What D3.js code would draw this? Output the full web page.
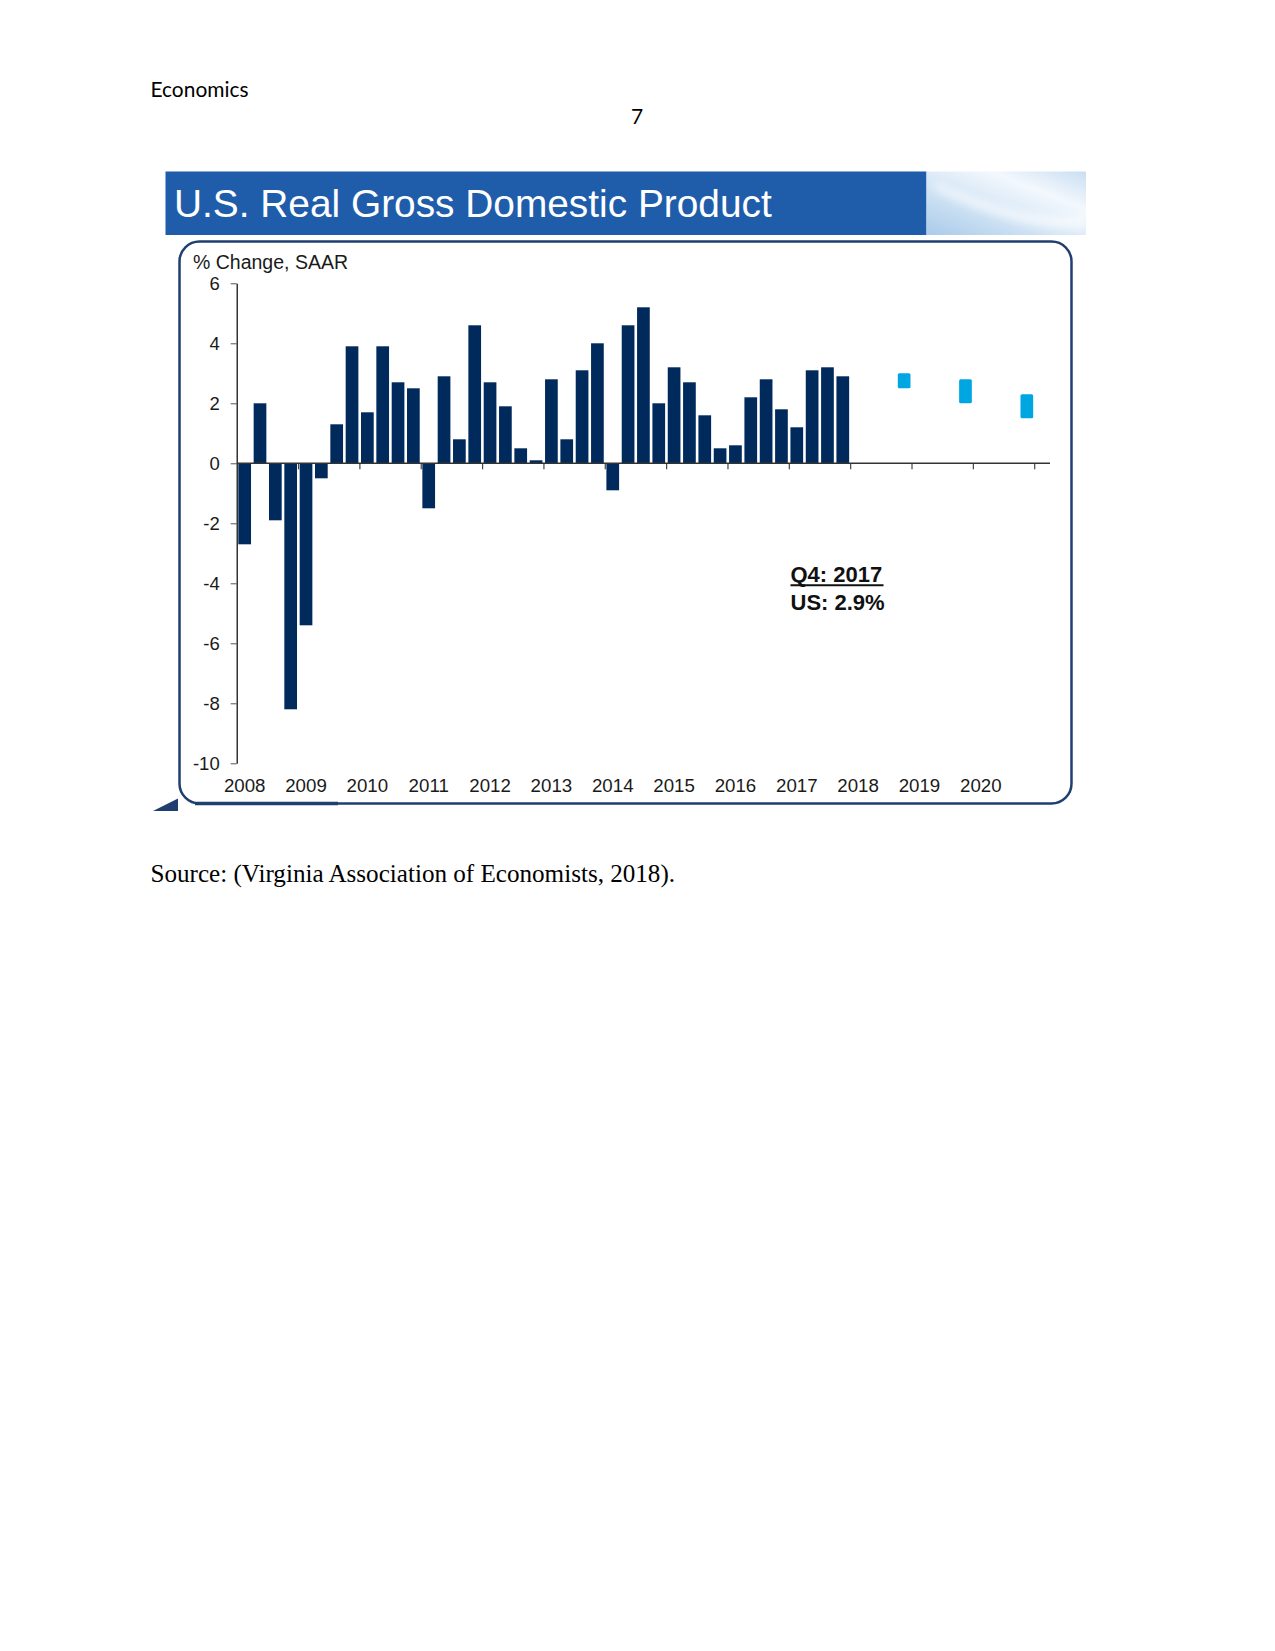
<!DOCTYPE html>
<html>
<head>
<meta charset="utf-8">
<script src="https://cdn.jsdelivr.net/npm/d3@7"></script>
<style>
  html, body { margin: 0; padding: 0; background: #fff; }
  svg { display: block; }
</style>
</head>
<body>
<script>
// ---- Data ----
const years = ["2008","2009","2010","2011","2012","2013","2014","2015","2016","2017","2018","2019","2020"];
const quarterLabels = [];
years.slice(0, 10).forEach(y => ["Q1","Q2","Q3","Q4"].forEach(q => quarterLabels.push(y + q)));
const gdpValues = [
  -2.7, 2.0, -1.9, -8.2,
  -5.4, -0.5, 1.3, 3.9,
   1.7, 3.9, 2.7, 2.5,
  -1.5, 2.9, 0.8, 4.6,
   2.7, 1.9, 0.5, 0.1,
   2.8, 0.8, 3.1, 4.0,
  -0.9, 4.6, 5.2, 2.0,
   3.2, 2.7, 1.6, 0.5,
   0.6, 2.2, 2.8, 1.8,
   1.2, 3.1, 3.2, 2.9
];
const forecastYears = ["2018","2019","2020"];
const forecastLow  = [2.5, 2.0, 1.5];
const forecastHigh = [3.0, 2.8, 2.3];
const yTicks = [-10, -8, -6, -4, -2, 0, 2, 4, 6];

// ---- Page ----
const W = 1275, H = 1651;
const svg = d3.select("body").append("svg").attr("width", W).attr("height", H);
svg.append("rect").attr("width", W).attr("height", H).attr("fill", "#fff");

function fitText(sel, target) {
  const len = sel.node().getComputedTextLength();
  const fs = parseFloat(sel.attr("font-size"));
  sel.attr("font-size", (fs * target / len).toFixed(2));
}

const hdr = svg.append("text").attr("x", 150.5).attr("y", 97)
  .attr("font-family", "Lato, 'Open Sans', sans-serif").attr("font-size", 20)
  .attr("fill", "#000").text("Economics");
fitText(hdr, 98);

svg.append("text").attr("x", 637).attr("y", 123.5).attr("text-anchor", "middle")
  .attr("font-family", "Lato, 'Open Sans', sans-serif").attr("font-size", 21)
  .attr("fill", "#000").text("7");

// ---- Banner ----
const defs = svg.append("defs");
const grad = defs.append("linearGradient").attr("id", "swoosh")
  .attr("x1", "0%").attr("y1", "100%").attr("x2", "100%").attr("y2", "0%");
grad.append("stop").attr("offset", "0%").attr("stop-color", "#a9cbea");
grad.append("stop").attr("offset", "45%").attr("stop-color", "#d9e8f6");
grad.append("stop").attr("offset", "70%").attr("stop-color", "#f3f8fd");
grad.append("stop").attr("offset", "100%").attr("stop-color", "#c9def2");
const blur = defs.append("filter").attr("id", "soft").attr("x", "-20%").attr("y", "-50%").attr("width", "140%").attr("height", "200%");
blur.append("feGaussianBlur").attr("stdDeviation", 4);

svg.append("rect").attr("x", 165.5).attr("y", 171.5).attr("width", 761).attr("height", 63.5)
  .attr("fill", "#1f5dab");
svg.append("rect").attr("x", 926.5).attr("y", 171.5).attr("width", 159.5).attr("height", 63.5)
  .attr("fill", "url(#swoosh)");
svg.append("path")
  .attr("d", "M935,182 C990,205 1040,222 1086,214 L1086,228 C1040,232 985,215 935,190 Z")
  .attr("fill", "#ffffff").attr("opacity", 0.6).attr("filter", "url(#soft)");

const title = svg.append("text").attr("x", 174).attr("y", 217)
  .attr("font-family", "'Liberation Sans', Arial, sans-serif").attr("font-size", 38)
  .attr("fill", "#fff").text("U.S. Real Gross Domestic Product");
fitText(title, 598);

// ---- Frame ----
svg.append("rect").attr("x", 179.5).attr("y", 241.5).attr("width", 892).attr("height", 562)
  .attr("rx", 20).attr("ry", 20).attr("fill", "#fff")
  .attr("stroke", "#1f3f70").attr("stroke-width", 2.5);
svg.append("line").attr("x1", 195).attr("x2", 338).attr("y1", 803.5).attr("y2", 803.5)
  .attr("stroke", "#1f3f70").attr("stroke-width", 3.5);
svg.append("path").attr("d", "M153,811 L178,811 L178,798.5 Z").attr("fill", "#1f3f70");

// ---- Scales ----
const x0 = 236.7, x1 = 1034.2;
const x = d3.scaleLinear().domain([0, years.length * 4]).range([x0, x1]);
const y = d3.scaleLinear().domain([-10, 6]).range([763.3, 283.3]);
const qStep = x(1) - x(0);
const barW = 12.7;
const barOff = (qStep - barW) / 2 + 0.3;

const g = svg.append("g");

// bars
g.selectAll("rect.bar").data(gdpValues).join("rect").attr("class", "bar")
  .attr("x", (d, i) => x(i) + barOff)
  .attr("width", barW)
  .attr("y", d => y(Math.max(0, d)))
  .attr("height", d => Math.abs(y(d) - y(0)))
  .attr("fill", "#002a5c");

// forecast ranges (placed at Q4 of each forecast year)
g.selectAll("rect.fc").data(forecastYears).join("rect").attr("class", "fc")
  .attr("x", (d, i) => x((years.indexOf(d)) * 4 + 3) + barOff)
  .attr("width", barW)
  .attr("y", (d, i) => y(forecastHigh[i]))
  .attr("height", (d, i) => y(forecastLow[i]) - y(forecastHigh[i]))
  .attr("rx", 1.5)
  .attr("fill", "#00a6e2");

// y axis
const yAxis = g.append("g").attr("transform", `translate(${x0},0)`)
  .call(d3.axisLeft(y).tickValues(yTicks).tickSize(6).tickPadding(11).tickSizeOuter(0).tickFormat(d => String(d)));
yAxis.select(".domain").attr("stroke", "#000").attr("stroke-width", 1.2);
yAxis.selectAll(".tick line").attr("stroke", "#555");
yAxis.selectAll("text").attr("font-family", "'Liberation Sans', Arial, sans-serif")
  .attr("font-size", 18.5).attr("fill", "#1a1a1a").attr("dy", "0.36em");

// x axis (zero line with year-boundary ticks)
const xAxis = g.append("g").attr("transform", `translate(0,${y(0)})`)
  .call(d3.axisBottom(x).tickValues(d3.range(4, years.length * 4 + 1, 4)).tickSize(6).tickSizeOuter(0).tickFormat(""));
xAxis.select(".domain").remove();
xAxis.selectAll(".tick line").attr("stroke", "#444").attr("stroke-width", 1.2);
g.append("line").attr("x1", x0).attr("x2", 1050).attr("y1", y(0)).attr("y2", y(0))
  .attr("stroke", "#333").attr("stroke-width", 1.6);

// year labels centred on each year's Q1 bar
g.selectAll("text.yr").data(years).join("text").attr("class", "yr")
  .attr("x", (d, i) => x(i * 4 + 0.5) + 0.3)
  .attr("y", 791.7)
  .attr("text-anchor", "middle")
  .attr("font-family", "'Liberation Sans', Arial, sans-serif")
  .attr("font-size", 18.7).attr("fill", "#1a1a1a")
  .text(d => d);

// axis title
svg.append("text").attr("x", 193).attr("y", 269.3)
  .attr("font-family", "'Liberation Sans', Arial, sans-serif").attr("font-size", 19.5)
  .attr("fill", "#1a1a1a").text("% Change, SAAR");

// annotation
svg.append("text").attr("x", 790.5).attr("y", 581.7)
  .attr("font-family", "'Liberation Sans', Arial, sans-serif").attr("font-size", 22)
  .attr("font-weight", "bold").attr("fill", "#111").text("Q4: 2017");
svg.append("line").attr("x1", 790.5).attr("x2", 883.5).attr("y1", 585.3).attr("y2", 585.3)
  .attr("stroke", "#111").attr("stroke-width", 2);
svg.append("text").attr("x", 790.5).attr("y", 610)
  .attr("font-family", "'Liberation Sans', Arial, sans-serif").attr("font-size", 22)
  .attr("font-weight", "bold").attr("fill", "#111").text("US: 2.9%");

// source line
const src = svg.append("text").attr("x", 150.5).attr("y", 882)
  .attr("font-family", "'Liberation Serif', 'Times New Roman', serif").attr("font-size", 24)
  .attr("fill", "#000").text("Source: (Virginia Association of Economists, 2018).");
fitText(src, 524.5);
</script>
</body>
</html>
